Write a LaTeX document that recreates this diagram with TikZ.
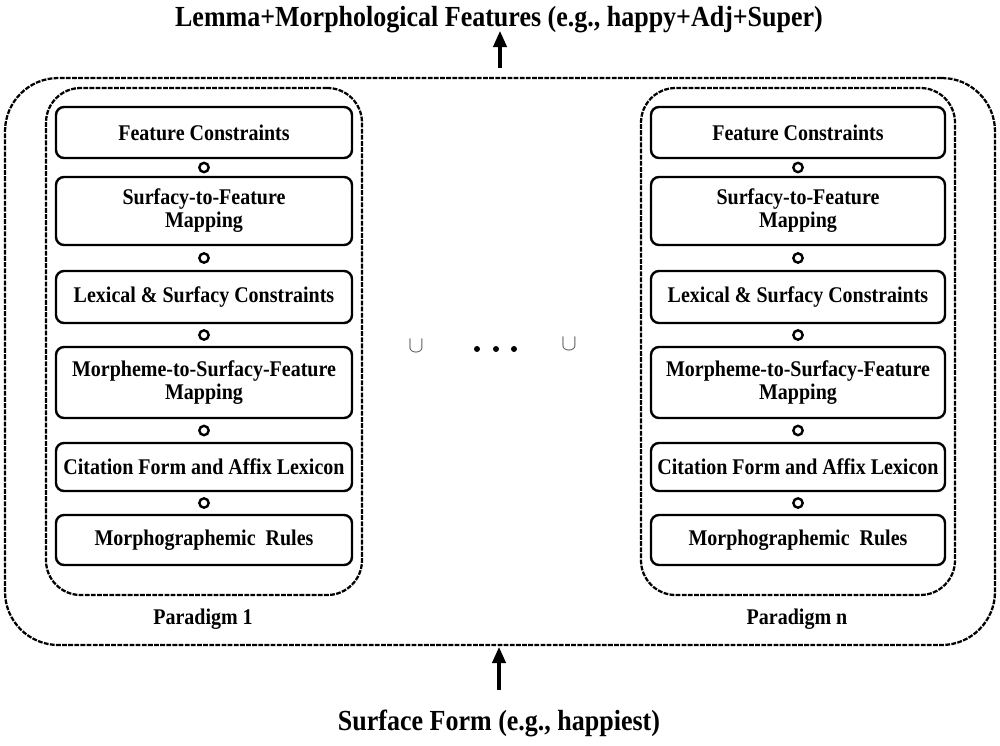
\documentclass[tikz,border=0pt]{standalone}
\usepackage{fontspec}
\usepackage{graphicx}
\setmainfont{Liberation Serif}
\usetikzlibrary{arrows.meta,calc}
\newcommand{\tallt}[1]{\scalebox{1}[1.12]{#1}}
\begin{document}
\begin{tikzpicture}[x=0.75pt,y=-0.75pt,
  every node/.style={font=\bfseries},
  stage/.style={draw,line width=1.8pt,rounded corners=6pt,align=center,inner sep=0pt,
    font=\fontsize{15}{17.25}\selectfont\bfseries},
  lstage/.style={stage,minimum width=222pt},
  rstage/.style={stage,minimum width=220.5pt},
  joint/.style={draw,circle,line width=1.8pt,minimum size=7pt,inner sep=0pt},
  frame/.style={draw,line width=1.7pt,dash pattern=on 3.6pt off 1pt,inner sep=0pt},
  bigtext/.style={font=\fontsize{19.5}{22}\selectfont\bfseries,inner sep=0pt},
  plabel/.style={font=\fontsize{15}{17}\selectfont\bfseries,inner sep=0pt},
  arr/.style={-{Triangle[length=12pt,width=10pt]},line width=2.3pt},
  dot/.style={circle,fill=black,minimum size=4.5pt,inner sep=0pt},
  uni/.style={text=black!70,inner sep=0pt,font=\LARGE}
]
\useasboundingbox (0,0) rectangle (1000,746);

% outer frame
\node[frame,rounded corners=40pt,minimum width=742.5pt,minimum height=425.25pt] (outer) at (500,361.5) {};
% paradigm frames
\node[frame,rounded corners=26pt,minimum width=237pt,minimum height=380.25pt] (pl) at (204,341.5) {};
\node[frame,rounded corners=26pt,minimum width=235.5pt,minimum height=380.25pt] (pr) at (798,341.5) {};

% left stages
\node[lstage,minimum height=38.25pt] (l1) at (204,132.5) {\tallt{Feature Constraints}};
\node[lstage,minimum height=51pt] (l2) at (204,211) {\tallt{Surfacy-to-Feature}\\ \tallt{Mapping}};
\node[lstage,minimum height=39pt] (l3) at (204,297) {\tallt{Lexical \& Surfacy Constraints}};
\node[lstage,minimum height=53.25pt] (l4) at (204,382.5) {\tallt{Morpheme-to-Surfacy-Feature}\\ \tallt{Mapping}};
\node[lstage,minimum height=36pt] (l5) at (204,467) {\tallt{Citation Form and Affix Lexicon}};
\node[lstage,minimum height=37.5pt] (l6) at (204,540) {\tallt{Morphographemic\ \ Rules}};

% right stages
\node[rstage,minimum height=38.25pt] (r1) at (798,132.5) {\tallt{Feature Constraints}};
\node[rstage,minimum height=51pt] (r2) at (798,211) {\tallt{Surfacy-to-Feature}\\ \tallt{Mapping}};
\node[rstage,minimum height=39pt] (r3) at (798,297) {\tallt{Lexical \& Surfacy Constraints}};
\node[rstage,minimum height=53.25pt] (r4) at (798,382.5) {\tallt{Morpheme-to-Surfacy-Feature}\\ \tallt{Mapping}};
\node[rstage,minimum height=36pt] (r5) at (798,467) {\tallt{Citation Form and Affix Lexicon}};
\node[rstage,minimum height=37.5pt] (r6) at (798,540) {\tallt{Morphographemic\ \ Rules}};

% composition circles
\foreach \s in {l,r}{
  \foreach \a/\b in {1/2,2/3,3/4,4/5,5/6}{
    \node[joint] (\s c\a) at ($(\s\a.south)!0.5!(\s\b.north)$) {};
  }
}

% labels
\node[plabel] (p1) at (203,619) {\tallt{Paradigm 1}};
\node[plabel] (pn) at (797,619) {\tallt{Paradigm n}};

% union and dots
\node[uni] (u1) at (416,346) {$\cup$};
\node[dot] (d1) at (477,349) {};
\node[dot] (d2) at (496,349) {};
\node[dot] (d3) at (514,349) {};
\node[uni] (u2) at (569,344) {$\cup$};

% top and bottom texts
\node[bigtext] (top) at (499,20) {\tallt{Lemma+Morphological Features (e.g., happy+Adj+Super)}};
\node[bigtext] (bot) at (499,723) {\tallt{Surface Form (e.g., happiest)}};
\coordinate (ta) at (500,68);
\coordinate (tb) at (500,31);
\coordinate (ba) at (499,690);
\coordinate (bb) at (499,647);
\draw[arr] (ta) -- (tb);
\draw[arr] (ba) -- (bb);
\end{tikzpicture}
\end{document}
